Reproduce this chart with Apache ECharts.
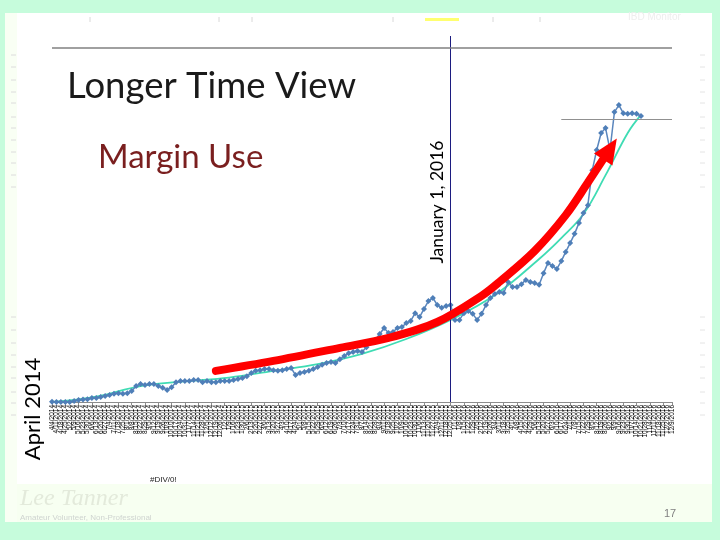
<!DOCTYPE html>
<html>
<head>
<meta charset="utf-8">
<script src="https://cdn.jsdelivr.net/npm/echarts@6/dist/echarts.min.js"></script>
<style>html,body{margin:0;padding:0;background:#c6fcdc;}#c{width:720px;height:540px;}</style>
</head>
<body>
<div id="c"></div>
<script>
// Weekly categories (x-axis tick labels)
const categories = [
"4/4/2014","4/11/2014","4/18/2014","4/25/2014",
"5/2/2014","5/9/2014","5/16/2014","5/23/2014","5/30/2014",
"6/6/2014","6/13/2014","6/20/2014","6/27/2014",
"7/4/2014","7/11/2014","7/18/2014","7/25/2014",
"8/1/2014","8/8/2014","8/15/2014","8/22/2014","8/29/2014",
"9/5/2014","9/12/2014","9/19/2014","9/26/2014",
"10/3/2014","10/10/2014","10/17/2014","10/24/2014","10/31/2014",
"11/7/2014","11/14/2014","11/21/2014","11/28/2014",
"12/5/2014","12/12/2014","12/19/2014","12/26/2014",
"1/2/2015","1/9/2015","1/16/2015","1/23/2015","1/30/2015",
"2/6/2015","2/13/2015","2/20/2015","2/27/2015",
"3/6/2015","3/13/2015","3/20/2015","3/27/2015",
"4/3/2015","4/10/2015","4/17/2015","4/24/2015",
"5/1/2015","5/8/2015","5/15/2015","5/22/2015","5/29/2015",
"6/5/2015","6/12/2015","6/19/2015","6/26/2015",
"7/3/2015","7/10/2015","7/17/2015","7/24/2015","7/31/2015",
"8/7/2015","8/14/2015","8/21/2015","8/28/2015",
"9/4/2015","9/11/2015","9/18/2015","9/25/2015",
"10/2/2015","10/9/2015","10/16/2015","10/23/2015","10/30/2015",
"11/6/2015","11/13/2015","11/20/2015","11/27/2015",
"12/4/2015","12/11/2015","12/18/2015","12/25/2015",
"1/1/2016","1/8/2016","1/15/2016","1/22/2016","1/29/2016",
"2/5/2016","2/12/2016","2/19/2016","2/26/2016",
"3/4/2016","3/11/2016","3/18/2016","3/25/2016",
"4/1/2016","4/8/2016","4/15/2016","4/22/2016","4/29/2016",
"5/6/2016","5/13/2016","5/20/2016","5/27/2016",
"6/3/2016","6/10/2016","6/17/2016","6/24/2016",
"7/1/2016","7/8/2016","7/15/2016","7/22/2016","7/29/2016",
"8/5/2016","8/12/2016","8/19/2016","8/26/2016",
"9/2/2016","9/9/2016","9/16/2016","9/23/2016","9/30/2016",
"10/7/2016","10/14/2016","10/21/2016","10/28/2016",
"11/4/2016","11/11/2016","11/18/2016","11/25/2016",
"12/2/2016","12/9/2016"
];

// Margin use (relative units)
const marginUse = [
0.1,0,0,0,0,0.3,0.6,0.7,0.8,1.1,
1.1,1.4,1.7,2.0,2.3,2.5,2.3,2.5,3.1,4.5,
5.1,4.8,5.1,5.1,4.5,4.0,3.4,4.2,5.6,5.9,
5.9,5.9,6.2,6.2,5.6,5.9,5.6,5.6,5.9,5.9,
5.9,6.2,6.5,6.8,7.3,8.2,8.8,9.0,9.3,9.3,
9.0,8.8,9.0,9.3,9.6,7.6,8.2,8.5,8.8,9.3,
9.9,10.5,11.0,11.3,11.0,12.1,13.0,13.8,14.1,14.4,
14.1,15.5,16.9,17.5,19.2,20.9,19.5,19.8,20.9,21.2,
22.3,22.9,25.1,24.0,26.3,28.5,29.4,27.4,26.6,27.1,
27.4,23.2,23.2,25.1,25.7,24.9,23.2,24.9,27.4,29.4,
30.5,31.1,30.8,33.9,32.5,32.5,33.3,34.5,33.9,33.6,
33.1,36.4,39.3,38.4,37.6,39.8,42.4,44.9,47.5,50.6,
53.4,55.6,65.5,71.2,76.0,77.4,71.2,81.9,83.9,81.6,
81.4,81.6,81.4,80.8
];

// Trendline anchor points [category index, value]
const trendline = [[0,0],[10,1.5],[20,4.5],[30,5.8],[40,6.9],[50,8.8],[60,10.7],[70,13.6],[80,17.8],[90,23.2],[100,30.2],[110,40.4],[115,46.3],[120,53.1],[125,64.1],[130,76.0],[133,81.1]];

// Hand-drawn red arrow path [category index, value]
const arrowPath = [[37,8.8],[50,11.6],[65,15.3],[76,18.1],[87,22.6],[97,30.0],[101,33.9],[109,42.7],[116,52.8],[121,62.0],[126,71.5]];

const markerIndex = 90;   // "January 1, 2016" marker
const topRule = 100;
const sideRule = 80;

const chart = echarts.init(document.getElementById('c'), null, {renderer:'canvas'});

const arrowData = arrowPath.map((p, i) => i === arrowPath.length - 1
  ? {value: p, symbol: 'triangle', symbolSize: [22, 25], symbolRotate: -33, itemStyle: {color: '#ff0000'}}
  : {value: p});

const g = [];
g.push({type:'rect', shape:{x:5,y:13,width:707,height:509}, style:{fill:'#ffffff'}, z:-10});
g.push({type:'rect', shape:{x:5,y:484,width:707,height:38}, style:{fill:'#f7fff1'}, z:-9});
g.push({type:'rect', shape:{x:5,y:13,width:12,height:509}, style:{fill:'#f9fff4'}, z:-9});
// faint ticks at top (remnants)
[90,219,252,393,493,540].forEach(x => g.push({type:'line', shape:{x1:x,y1:17,x2:x,y2:22}, style:{stroke:'#d8d8d8',lineWidth:1}, z:-5}));
g.push({type:'rect', shape:{x:425,y:18,width:34,height:3}, style:{fill:'#ffff70'}, z:-5});
g.push({type:'text', x:628, y:12, style:{text:'IBD Monitor', font:'10px "Liberation Sans"', fill:'#eeeeee'}, z:-5});
// faint dashes at left and right edges
[55,67,80,92,103,117,128,140,152,163,175,187,317,330,343,355,367,378,392,403,415].forEach(y => {
  g.push({type:'line', shape:{x1:11,y1:y,x2:16,y2:y}, style:{stroke:'#dcdcdc',lineWidth:1}, z:-5});
  g.push({type:'line', shape:{x1:700,y1:y,x2:705,y2:y}, style:{stroke:'#e4e4e4',lineWidth:1}, z:-5});
});
g.push({type:'text', x:67, y:68, style:{text:'Longer Time View', font:'36.5px Lato', fill:'#1a1a1a'}});
g.push({type:'text', x:98, y:141, style:{text:'Margin Use', font:'33px Lato', fill:'#7a1f1f'}});
g.push({type:'text', x:437, y:202, rotation:Math.PI/2, style:{text:'January 1, 2016', font:'17.5px Lato', fill:'#000', align:'center', verticalAlign:'middle'}});
g.push({type:'text', x:33, y:409, rotation:Math.PI/2, style:{text:'April 2014', font:'22px Lato', fill:'#000', align:'center', verticalAlign:'middle'}});
g.push({type:'text', x:150, y:476, style:{text:'#DIV/0!', font:'8px "Liberation Sans"', fill:'#222'}});
g.push({type:'text', x:20, y:487, style:{text:'Lee Tanner', font:'italic 24px "Liberation Serif"', fill:'#e3eadb'}});
g.push({type:'text', x:20, y:514, style:{text:'Amateur Volunteer, Non-Professional', font:'8px "Liberation Sans"', fill:'#cfd4d0'}});
g.push({type:'text', x:664, y:508, style:{text:'17', font:'11px "Liberation Sans"', fill:'#808080'}});

chart.setOption({
  backgroundColor: '#c6fcdc',
  animation: false,
  graphic: g,
  grid: {left:52, right:48, top:36, bottom:138},
  xAxis: {
    type:'category', data:categories, boundaryGap:false,
    axisLine:{lineStyle:{color:'#8c8c8c', width:1}},
    axisTick:{show:true, interval:2, length:3, lineStyle:{color:'#8c8c8c'}},
    axisLabel:{interval:0, rotate:90, fontSize:6.5, margin:3, color:'#000', fontFamily:'Liberation Sans'},
    splitLine:{show:false}
  },
  yAxis: {type:'value', min:0, max:103.4, show:false, splitLine:{show:false}},
  series: [
    {
      name:'Trend', type:'line', data:trendline, smooth:0.4, symbol:'none',
      lineStyle:{color:'#3fdcb4', width:1.8}, z:2
    },
    {
      name:'Margin Use', type:'line', data:marginUse, symbol:'diamond', symbolSize:6,
      showAllSymbol:true,
      itemStyle:{color:'#4f7fb8'}, lineStyle:{color:'#5a86bd', width:1.5}, z:3,
      markLine:{
        silent:true, symbol:'none', label:{show:false},
        data:[
          {xAxis:markerIndex, lineStyle:{color:'#1c1c80', width:1, type:'solid'}},
          {yAxis:topRule, lineStyle:{color:'#808080', width:1.5, type:'solid'}},
          [{coord:[115, sideRule], lineStyle:{color:'#909090', width:1, type:'solid'}}, {coord:[categories.length-1, sideRule]}]
        ]
      }
    },
    {
      name:'Arrow', type:'line', data:arrowData, smooth:0.35, symbol:'none',
      lineStyle:{color:'#ff0000', width:8, cap:'round'}, itemStyle:{color:'#ff0000'}, z:5
    }
  ]
});
</script>
</body>
</html>
